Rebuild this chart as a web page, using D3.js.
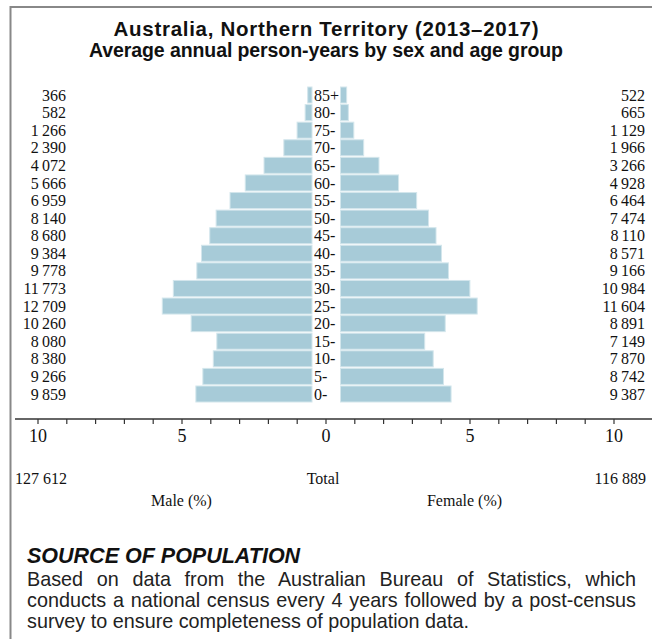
<!DOCTYPE html>
<html>
<head>
<meta charset="utf-8">
<script src="https://cdn.jsdelivr.net/npm/d3@7"></script>
<style>
  html, body { margin: 0; padding: 0; background: #fff; }
  svg { display: block; }
</style>
</head>
<body>
<svg id="chart" width="652" height="639"></svg>
<script>
// ---- data ----
const ageGroups = ["85+","80-","75-","70-","65-","60-","55-","50-","45-","40-","35-","30-","25-","20-","15-","10-","5-","0-"];
const maleValues = [366,582,1266,2390,4072,5666,6959,8140,8680,9384,9778,11773,12709,10260,8080,8380,9266,9859];
const femaleValues = [522,665,1129,1966,3266,4928,6464,7474,8110,8571,9166,10984,11604,8891,7149,7870,8742,9387];
const maleTotal = 127612;
const femaleTotal = 116889;
const tickValues = [-10,-9,-8,-7,-6,-5,-4,-3,-2,-1,0,1,2,3,4,5,6,7,8,9,10];
const labelledTicks = [-10,-5,0,5,10];
const titleLines = ["Australia, Northern Territory (2013\u20132017)", "Average annual person-years by sex and age group"];
const sourceHeading = "SOURCE OF POPULATION";
const sourceLines = [
  "Based on data from the Australian Bureau of Statistics, which",
  "conducts a national census every 4 years followed by a post-census",
  "survey to ensure completeness of population data."
];

// ---- setup ----
const svg = d3.select("#chart");
const serif = "'Liberation Serif', 'Times New Roman', serif";
const sans = "'Liberation Sans', Arial, sans-serif";
const barColor = "#a7cbd8";
const grand = maleTotal + femaleTotal;
const fmt = d3.formatLocale({decimal: ".", thousands: "\u2009", grouping: [3], currency: ["", ""]}).format(",d");
const fmtTotal = d3.formatLocale({decimal: ".", thousands: " ", grouping: [3], currency: ["", ""]}).format(",d");

// frame
svg.append("path")
  .attr("d", "M10.5,639 L10.5,7 L652,7")
  .attr("fill", "none").attr("stroke", "#888").attr("stroke-width", 2);

// title
const titleWidths = [425, 474];
const titleSizes = [20.5, 19.5];
svg.append("g").selectAll("text").data(titleLines).join("text")
  .attr("x", 326).attr("y", (d, i) => 36 + i * 21)
  .attr("text-anchor", "middle")
  .attr("font-family", sans).attr("font-weight", 700).attr("font-size", (d, i) => titleSizes[i])
  .attr("fill", "#111")
  .attr("textLength", (d, i) => titleWidths[i]).attr("lengthAdjust", "spacing")
  .text(d => d);

// scales
const x = d3.scaleLinear().domain([-10, 10]).range([37.5, 613.5]);
const cx = x(0);
const y = d3.scaleBand().domain(ageGroups).range([87, 402]).paddingInner(0.09);
const maleRight = cx - 13.5;
const femaleLeft = cx + 15;
const len = v => x(v / grand * 100) - x(0);

// bars
const bars = svg.append("g");
bars.selectAll("rect.m").data(ageGroups).join("rect").attr("class", "m")
  .attr("x", (d, i) => maleRight - len(maleValues[i]))
  .attr("y", d => y(d))
  .attr("width", (d, i) => len(maleValues[i]))
  .attr("height", y.bandwidth())
  .attr("fill", barColor).attr("stroke", "#d3e6ec").attr("stroke-width", 1);
bars.selectAll("rect.f").data(ageGroups).join("rect").attr("class", "f")
  .attr("x", femaleLeft)
  .attr("y", d => y(d))
  .attr("width", (d, i) => len(femaleValues[i]))
  .attr("height", y.bandwidth())
  .attr("fill", barColor).attr("stroke", "#d3e6ec").attr("stroke-width", 1);

// age labels
svg.append("g").selectAll("text").data(ageGroups).join("text")
  .attr("x", maleRight + 2).attr("y", d => y(d) + y.bandwidth() / 2)
  .attr("dy", "0.35em")
  .attr("font-family", serif).attr("font-size", 16).attr("fill", "#111")
  .text(d => d);

// value labels
svg.append("g").selectAll("text").data(ageGroups).join("text")
  .attr("x", 66).attr("y", d => y(d) + y.bandwidth() / 2)
  .attr("dy", "0.35em").attr("text-anchor", "end")
  .attr("font-family", serif).attr("font-size", 16).attr("fill", "#111")
  .text((d, i) => fmt(maleValues[i]));
svg.append("g").selectAll("text").data(ageGroups).join("text")
  .attr("x", 645).attr("y", d => y(d) + y.bandwidth() / 2)
  .attr("dy", "0.35em").attr("text-anchor", "end")
  .attr("font-family", serif).attr("font-size", 16).attr("fill", "#111")
  .text((d, i) => fmt(femaleValues[i]));

// axis
const axisY = 419;
svg.append("line").attr("x1", 15).attr("x2", 652).attr("y1", axisY).attr("y2", axisY)
  .attr("stroke", "#666").attr("stroke-width", 2);
const axis = d3.axisBottom(x).tickValues(tickValues).tickSize(5).tickPadding(5)
  .tickFormat(d => labelledTicks.includes(d) ? Math.abs(d) : "");
const ag = svg.append("g").attr("transform", `translate(0,${axisY})`).call(axis);
ag.select(".domain").remove();
ag.selectAll(".tick line").attr("stroke", "#333").attr("stroke-width", 1.2);
ag.selectAll(".tick text").attr("font-family", serif).attr("font-size", 18).attr("fill", "#111");

// totals & labels
const tg = svg.append("g").attr("font-family", serif).attr("font-size", 16).attr("fill", "#111");
tg.append("text").attr("x", 15).attr("y", 484).text(fmtTotal(maleTotal));
tg.append("text").attr("x", 323).attr("y", 484).attr("text-anchor", "middle").text("Total");
tg.append("text").attr("x", 646).attr("y", 484).attr("text-anchor", "end").text(fmtTotal(femaleTotal));
tg.append("text").attr("x", x(-5)).attr("y", 506).attr("text-anchor", "middle").text("Male (%)");
tg.append("text").attr("x", x(5) - 5).attr("y", 506).attr("text-anchor", "middle").text("Female (%)");

// source note
svg.append("text").attr("x", 27).attr("y", 563)
  .attr("font-family", sans).attr("font-weight", 700).attr("font-style", "italic")
  .attr("font-size", 21.5).attr("fill", "#111").text(sourceHeading);
const lineW = 609;
svg.append("g").selectAll("text").data(sourceLines).join("text")
  .attr("x", 27).attr("y", (d, i) => 586 + i * 21)
  .attr("font-family", sans).attr("font-size", 19.8).attr("fill", "#222")
  .text(d => d)
  .each(function(d, i) {
    if (i < sourceLines.length - 1) {
      const w = this.getComputedTextLength();
      const spaces = d.split(" ").length - 1;
      const extra = (lineW - w) / spaces;
      d3.select(this).attr("word-spacing", extra);
    }
  });
</script>
</body>
</html>
